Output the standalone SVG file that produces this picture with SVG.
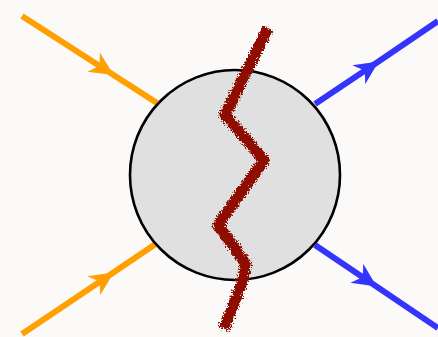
<svg xmlns="http://www.w3.org/2000/svg" width="438" height="337" viewBox="0 0 438 337">
  <style>
    .leg { fill: none; stroke-width: 6; stroke-linecap: butt; }
    .in { stroke: #ff9f00; marker-mid: url(#headIn); }
    .out { stroke: #3434ff; marker-mid: url(#headOut); }
    .blob { fill: #e0e0e0; stroke: #000; stroke-width: 2.6; }
    .cut { fill: none; stroke: #8f0d00; stroke-width: 11; stroke-linejoin: round; stroke-linecap: butt; filter: url(#rough); }
  </style>
  <defs>
    <marker id="headIn" markerUnits="userSpaceOnUse" markerWidth="30" markerHeight="30" viewBox="-25 -15 30 30" refX="0" refY="0" orient="auto" overflow="visible">
      <path d="M2,0 L-22,-11.5 Q-17,-4 -15,0 Q-17,4 -22,11.5 Z" fill="#ff9f00"/>
    </marker>
    <marker id="headOut" markerUnits="userSpaceOnUse" markerWidth="30" markerHeight="30" viewBox="-25 -15 30 30" refX="0" refY="0" orient="auto" overflow="visible">
      <path d="M2,0 L-22,-11.5 Q-17,-4 -15,0 Q-17,4 -22,11.5 Z" fill="#3434ff"/>
    </marker>
    <!-- grainy, chalk-like edge for the cut line -->
    <filter id="rough" x="-20%" y="-10%" width="140%" height="120%">
      <feTurbulence type="fractalNoise" baseFrequency="0.6" numOctaves="3" seed="3" result="noise"/>
      <feDisplacementMap in="SourceGraphic" in2="noise" scale="8" xChannelSelector="R" yChannelSelector="G"/>
    </filter>
  </defs>
  <rect width="438" height="337" fill="#fbfaf9"/>
  <g id="connectors">
    <path class="leg in" d="M22,16 L112,74 L157,103"/>
    <path class="leg in" d="M22,334 L112,273.5 L157,243"/>
    <path class="leg out" d="M315,104 L377,62.5 L438,21"/>
    <path class="leg out" d="M315,245 L375,285.5 L438,328"/>
  </g>
  <g id="blob">
    <circle class="blob" cx="235" cy="175" r="105"/>
  </g>
  <g id="cut">
    <path class="cut" d="M268,28 L225,115 L264,160 L218,225 L246,264 L242,283 L224,329"/>
  </g>
</svg>
